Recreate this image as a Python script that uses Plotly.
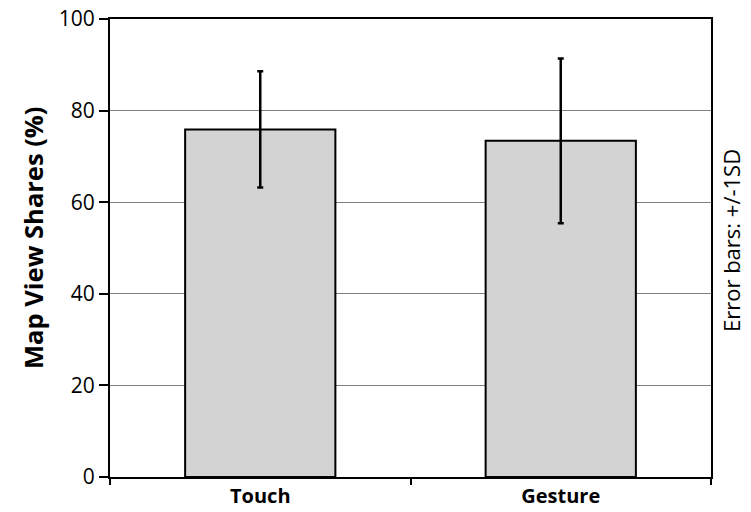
import plotly.graph_objects as go

categories = ["Touch", "Gesture"]
means = [75.9, 73.4]
sds = [12.7, 18.0]
y_ticks = [0, 20, 40, 60, 80, 100]

font_family = "Open Sans, Liberation Sans, sans-serif"

fig = go.Figure()
fig.add_trace(go.Bar(
    x=categories, y=means,
    marker=dict(color="#d3d3d3", line=dict(color="black", width=2)),
    error_y=dict(type="data", array=sds, visible=True, color="black", thickness=2.5, width=3),
    width=0.5,
))

fig.update_layout(
    width=751, height=512,
    margin=dict(l=110, r=40, t=19, b=35, autoexpand=False),
    plot_bgcolor="white", paper_bgcolor="white",
    showlegend=False,
    font=dict(family=font_family, color="black", size=18),
    xaxis=dict(
        automargin=False,
        showline=True, linecolor="black", linewidth=2, mirror=True,
        ticks="outside", tickson="boundaries", ticklen=6, tickcolor="black", tickwidth=1.5,
        tickfont=dict(size=20, family=font_family),
        tickprefix="<b>", ticksuffix="</b>",
        showgrid=False,
    ),
    yaxis=dict(
        automargin=False,
        range=[0, 100], tickvals=y_ticks,
        showline=True, linecolor="black", linewidth=2, mirror=True,
        ticks="outside", ticklen=9, tickcolor="black", tickwidth=1.5,
        tickfont=dict(size=21, family=font_family),
        ticksuffix="\u00a0\u00a0\u2009",
        showgrid=True, gridcolor="#808080", gridwidth=1.2,
        zeroline=False,
    ),
    annotations=[
        dict(
            text="<b>Map View Shares (%)</b>", xref="paper", yref="paper", x=0, y=0.5,
            xanchor="center", yanchor="middle", xshift=-77, yshift=10, textangle=-90,
            showarrow=False, font=dict(size=25.5, family=font_family, color="black"),
        ),
        dict(
            text="Error bars: +/-1SD", xref="paper", yref="paper", x=1, y=0.5,
            xanchor="center", yanchor="middle", xshift=20, yshift=7, textangle=-90,
            showarrow=False, font=dict(size=22, family=font_family, color="black"),
        ),
    ],
)

fig.write_html(
    "out.html",
    config={"displayModeBar": False},
    post_script="document.body.style.margin='0px';document.body.style.padding='0px';",
)
